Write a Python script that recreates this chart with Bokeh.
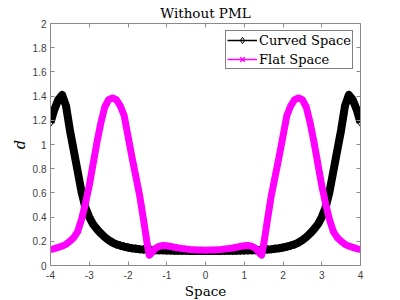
from bokeh.plotting import figure
from bokeh.models import Range1d, FixedTicker, Legend, LegendItem, LinearAxis
from bokeh.embed import file_html
from bokeh.resources import INLINE

x_vals = [-4.0, -3.9, -3.8, -3.7, -3.6, -3.5, -3.4, -3.3, -3.2, -3.1,
          -3.0, -2.9, -2.8, -2.7, -2.6, -2.5, -2.4, -2.3, -2.2, -2.1,
          -2.0, -1.9, -1.8, -1.7, -1.6, -1.5, -1.45, -1.4, -1.3, -1.2,
          -1.1, -1.0, -0.9, -0.8, -0.7, -0.6, -0.5, -0.4, -0.3, -0.2,
          -0.1, 0.0,
          0.1, 0.2, 0.3, 0.4, 0.5, 0.6, 0.7, 0.8, 0.9, 1.0,
          1.1, 1.2, 1.3, 1.4, 1.45, 1.5, 1.6, 1.7, 1.8, 1.9,
          2.0, 2.1, 2.2, 2.3, 2.4, 2.5, 2.6, 2.7, 2.8, 2.9,
          3.0, 3.1, 3.2, 3.3, 3.4, 3.5, 3.6, 3.7, 3.8, 3.9, 4.0]

curved_space = [1.18, 1.29, 1.37, 1.41, 1.32, 1.12, 0.95, 0.78, 0.61, 0.48,
                0.40, 0.34, 0.30, 0.265, 0.235, 0.21, 0.19, 0.175, 0.165, 0.156,
                0.149, 0.143, 0.139, 0.135, 0.132, 0.130, 0.129, 0.128, 0.127, 0.126,
                0.125, 0.124, 0.123, 0.122, 0.122, 0.121, 0.121, 0.120, 0.120, 0.120,
                0.120, 0.120,
                0.120, 0.120, 0.120, 0.120, 0.121, 0.121, 0.122, 0.122, 0.123, 0.124,
                0.125, 0.126, 0.127, 0.128, 0.129, 0.130, 0.132, 0.135, 0.139, 0.143,
                0.149, 0.156, 0.165, 0.175, 0.19, 0.21, 0.235, 0.265, 0.30, 0.34,
                0.40, 0.48, 0.61, 0.78, 0.95, 1.12, 1.32, 1.41, 1.37, 1.29, 1.18]

flat_space = [0.13, 0.14, 0.15, 0.16, 0.175, 0.20, 0.23, 0.28, 0.38, 0.51,
              0.66, 0.84, 1.02, 1.18, 1.31, 1.37, 1.385, 1.37, 1.32, 1.24,
              1.07, 0.90, 0.74, 0.58, 0.38, 0.17, 0.085, 0.10, 0.14, 0.158,
              0.165, 0.163, 0.157, 0.151, 0.145, 0.140, 0.136, 0.133, 0.131, 0.129,
              0.128, 0.127,
              0.128, 0.129, 0.131, 0.133, 0.136, 0.140, 0.145, 0.151, 0.157, 0.163,
              0.165, 0.158, 0.14, 0.10, 0.085, 0.17, 0.38, 0.58, 0.74, 0.90,
              1.07, 1.24, 1.32, 1.37, 1.385, 1.37, 1.31, 1.18, 1.02, 0.84,
              0.66, 0.51, 0.38, 0.28, 0.23, 0.20, 0.175, 0.16, 0.15, 0.14, 0.13]

x_ticks = [-4, -3, -2, -1, 0, 1, 2, 3, 4]
x_tick_labels = ["-4", "-3", "-2", "-1", "0", "1", "2", "3", "4"]
y_ticks = [0, 0.2, 0.4, 0.6, 0.8, 1, 1.2, 1.4, 1.6, 1.8, 2]
y_tick_labels = ["0", "0.2", "0.4", "0.6", "0.8", "1", "1.2", "1.4", "1.6", "1.8", "2"]

SERIF = "DejaVu Serif"
SANS = "Liberation Sans"
AX_COL = "#8a8a8a"
LBL_COL = "#404040"
MAGENTA = "#ff00ff"

p = figure(frame_width=310, frame_height=242,
           min_border_left=50, min_border_top=0, min_border_right=30, min_border_bottom=30,
           x_range=Range1d(-4, 4), y_range=Range1d(0, 2),
           output_backend="svg", toolbar_location=None,
           title="Without PML")
p.title.align = "center"
p.title.text_font = SERIF
p.title.text_font_size = "13.5px"
p.title.text_font_style = "normal"
p.title.text_color = "black"
p.title.standoff = 5
p.xgrid.visible = False
p.ygrid.visible = False
p.outline_line_color = None  # box is drawn by the four axes
p.background_fill_color = "white"
p.border_fill_color = "white"

def style_axis(ax, ticks, labels, show_labels=True):
    ax.ticker = FixedTicker(ticks=ticks)
    ax.minor_tick_line_color = None
    ax.major_tick_in = 4
    ax.major_tick_out = 0
    ax.axis_line_color = AX_COL
    ax.major_tick_line_color = AX_COL
    if show_labels:
        ax.major_label_overrides = dict(zip(ticks, labels))
        ax.major_label_text_font = SANS
        ax.major_label_text_font_size = "10px"
        ax.major_label_text_color = LBL_COL
        ax.major_label_standoff = 4
    else:
        ax.major_label_text_color = None
        ax.major_label_text_font_size = "1px"
        ax.major_label_standoff = 0

style_axis(p.xaxis[0], x_ticks, x_tick_labels)
style_axis(p.yaxis[0], y_ticks, y_tick_labels)
p.xaxis[0].major_label_standoff = 5
p.xaxis[0].axis_label = "Space"
p.xaxis[0].axis_label_text_font = SERIF
p.xaxis[0].axis_label_text_font_size = "13.5px"
p.xaxis[0].axis_label_text_font_style = "normal"
p.xaxis[0].axis_label_text_color = "black"
p.xaxis[0].axis_label_standoff = 1
p.yaxis[0].axis_label = "d"
p.yaxis[0].axis_label_text_font = SERIF
p.yaxis[0].axis_label_text_font_size = "14.5px"
p.yaxis[0].axis_label_text_font_style = "italic"
p.yaxis[0].axis_label_text_color = "black"
p.yaxis[0].axis_label_standoff = 2

top_ax = LinearAxis()
style_axis(top_ax, x_ticks, x_tick_labels, show_labels=False)
p.add_layout(top_ax, "above")
right_ax = LinearAxis()
style_axis(right_ax, y_ticks, y_tick_labels, show_labels=False)
p.add_layout(right_ax, "right")

# thick bands (dense markers in the original)
p.line(x_vals, curved_space, line_color="black", line_width=8, line_join="round")
c_line = p.line(x_vals, curved_space, line_color="black", line_width=1.5)
c_pts = p.scatter(x_vals, curved_space, marker="diamond", size=8,
                  line_color="black", fill_color=None, line_width=1)

p.line(x_vals, flat_space, line_color=MAGENTA, line_width=7, line_join="round")
f_line = p.line(x_vals, flat_space, line_color=MAGENTA, line_width=1.5)
f_pts = p.scatter(x_vals, flat_space, marker="x", size=6,
                  line_color=MAGENTA, line_width=1.5)

legend = Legend(items=[LegendItem(label="Curved Space", renderers=[c_line, c_pts]),
                       LegendItem(label="Flat Space", renderers=[f_line, f_pts])],
                location="top_right", margin=7, padding=1, spacing=3,
                glyph_width=30, glyph_height=16, label_height=16, label_standoff=2,
                label_text_font=SERIF, label_text_font_size="13px",
                label_text_color="black",
                border_line_color="black", border_line_width=1,
                background_fill_color="white", background_fill_alpha=1)
p.add_layout(legend, "center")

open("out.html", "w").write(file_html(p, INLINE))
